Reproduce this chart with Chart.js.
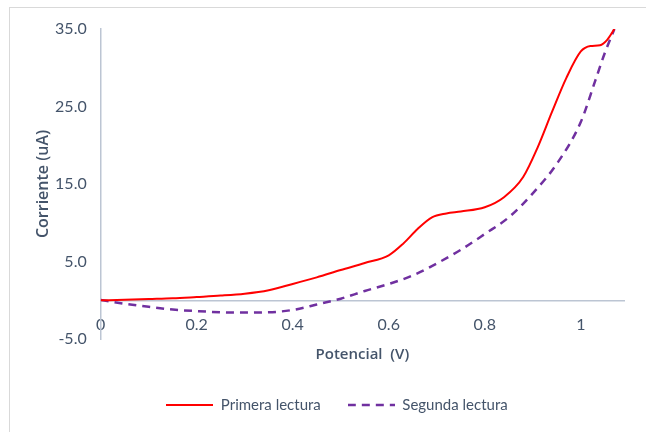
<!DOCTYPE html>
<html>
<head>
<meta charset="utf-8">
<script src="https://cdn.jsdelivr.net/npm/chart.js@4/dist/chart.umd.min.js"></script>
<style>
  html, body { margin: 0; padding: 0; background: #ffffff; }
  #wrap { width: 646px; height: 432px; }
</style>
</head>
<body>
<div id="wrap"><canvas id="c" width="646" height="432"></canvas></div>
<script>
// Voltammetry readings: potential (V) vs current (uA)
const potencial1 = [0, 0.05, 0.1, 0.15, 0.2, 0.25, 0.3, 0.35, 0.4, 0.45, 0.5, 0.55, 0.6, 0.63, 0.66, 0.69, 0.72, 0.75, 0.8, 0.84, 0.88, 0.91, 0.94, 0.97, 1.0, 1.02, 1.04, 1.055, 1.07];
const corriente1 = [0, 0.05, 0.15, 0.25, 0.42, 0.6, 0.85, 1.3, 2.1, 2.95, 3.9, 4.8, 5.8, 7.3, 9.2, 10.7, 11.2, 11.45, 12.0, 13.3, 15.9, 19.7, 24.3, 28.7, 32.1, 32.8, 32.9, 33.6, 35.0];

const potencial2 = [0, 0.05, 0.1, 0.15, 0.2, 0.25, 0.3, 0.35, 0.4, 0.45, 0.5, 0.55, 0.6, 0.65, 0.7, 0.75, 0.8, 0.85, 0.9, 0.95, 1.0, 1.03, 1.05, 1.07];
const corriente2 = [0.05, -0.45, -0.85, -1.2, -1.4, -1.55, -1.58, -1.55, -1.25, -0.55, 0.2, 1.2, 2.1, 3.2, 4.75, 6.5, 8.55, 10.7, 13.8, 17.6, 23.0, 28.3, 31.9, 35.0];

const seriesNames = ['Primera lectura', 'Segunda lectura'];
const xTicks = [0, 0.2, 0.4, 0.6, 0.8, 1];
const yTicks = [-5, 5, 15, 25, 35];
const xTitle = 'Potencial  (V)';
const yTitle = 'Corriente (uA)';

const toPoints = (xs, ys) => xs.map((x, i) => ({ x: x, y: ys[i] }));

const textColor = '#44546A';
const axisColor = '#BCC5D3';
const tickFont = { family: 'Lato, "Liberation Sans", sans-serif', size: 16 };
const X_MIN = 0, X_MAX = 1.09;

const RED = '#FF0000', PURPLE = '#7030A0';
const DASH = [8, 6];

// small line swatch used as the legend symbol (keeps the dash pattern)
function lineSwatch(color, width, dash) {
  const c = document.createElement('canvas');
  c.width = 47; c.height = 4;
  const g = c.getContext('2d');
  g.strokeStyle = color;
  g.lineWidth = width;
  g.setLineDash(dash);
  g.beginPath();
  g.moveTo(0, 2);
  g.lineTo(47, 2);
  g.stroke();
  return c;
}

// thin frame around the whole chart
const frame = {
  id: 'frame',
  beforeDraw(chart) {
    const ctx = chart.ctx;
    ctx.save();
    ctx.fillStyle = '#ffffff';
    ctx.fillRect(0, 0, chart.width, chart.height);
    ctx.strokeStyle = '#D9D9D9';
    ctx.lineWidth = 1;
    ctx.strokeRect(9.5, 7.5, chart.width + 20, chart.height + 20);
    ctx.restore();
  }
};

new Chart(document.getElementById('c'), {
  type: 'line',
  data: {
    datasets: [
      {
        label: seriesNames[0],
        data: toPoints(potencial1, corriente1),
        borderColor: RED,
        backgroundColor: RED,
        borderWidth: 2,
        pointRadius: 0,
        pointStyle: lineSwatch(RED, 2, []),
        cubicInterpolationMode: 'monotone',
        fill: false
      },
      {
        label: seriesNames[1],
        data: toPoints(potencial2, corriente2),
        borderColor: PURPLE,
        backgroundColor: PURPLE,
        borderWidth: 2.5,
        borderDash: DASH,
        pointRadius: 0,
        pointStyle: lineSwatch(PURPLE, 2.5, DASH),
        cubicInterpolationMode: 'monotone',
        fill: false
      }
    ]
  },
  options: {
    responsive: false,
    animation: false,
    events: [],
    layout: { padding: { left: 28, right: 0, top: 29, bottom: 9.5 } },
    scales: {
      // bottom axis: carries only the title
      x: {
        type: 'linear',
        position: 'bottom',
        min: X_MIN, max: X_MAX,
        ticks: { display: false },
        grid: { display: false, drawTicks: false },
        border: { display: false },
        title: {
          display: true,
          text: xTitle,
          color: textColor,
          font: { family: '"Open Sans", sans-serif', size: 15, weight: '600' },
          padding: { top: 7, bottom: 6.5 }
        }
      },
      // axis line crossing at zero current, with the potential labels
      x0: {
        type: 'linear',
        position: { y: 0 },
        min: X_MIN, max: X_MAX,
        afterBuildTicks: (s) => { s.ticks = xTicks.map(v => ({ value: v })); },
        ticks: {
          color: textColor,
          font: tickFont,
          padding: 15,
          maxRotation: 0,
          callback: (v) => String(v)
        },
        grid: { display: false, drawTicks: false },
        border: { display: true, color: axisColor, width: 1.5 }
      },
      y: {
        type: 'linear',
        position: 'left',
        min: -5, max: 35,
        afterBuildTicks: (s) => { s.ticks = yTicks.map(v => ({ value: v })); },
        afterFit: (s) => { s.width = 72.7; },
        ticks: {
          color: textColor,
          font: tickFont,
          padding: 14,
          callback: (v) => Number(v).toFixed(1)
        },
        grid: { display: false, drawTicks: false },
        border: { display: true, color: axisColor, width: 1.5 },
        title: {
          display: true,
          text: yTitle,
          color: textColor,
          font: { family: '"Open Sans", sans-serif', size: 16, weight: '600' },
          padding: { top: 5.4, bottom: 0 }
        }
      },
      // empty right-hand margin
      yR: {
        type: 'linear',
        position: 'right',
        min: -5, max: 35,
        afterFit: (s) => { s.width = 22; },
        ticks: { display: false },
        grid: { display: false, drawTicks: false },
        border: { display: false }
      }
    },
    plugins: {
      tooltip: { enabled: false },
      legend: {
        position: 'bottom',
        labels: {
          usePointStyle: true,
          pointStyleWidth: 47,
          padding: 27,
          color: textColor,
          font: { family: 'Lato, "Liberation Sans", sans-serif', size: 15 }
        }
      }
    }
  },
  plugins: [frame]
});
</script>
</body>
</html>
